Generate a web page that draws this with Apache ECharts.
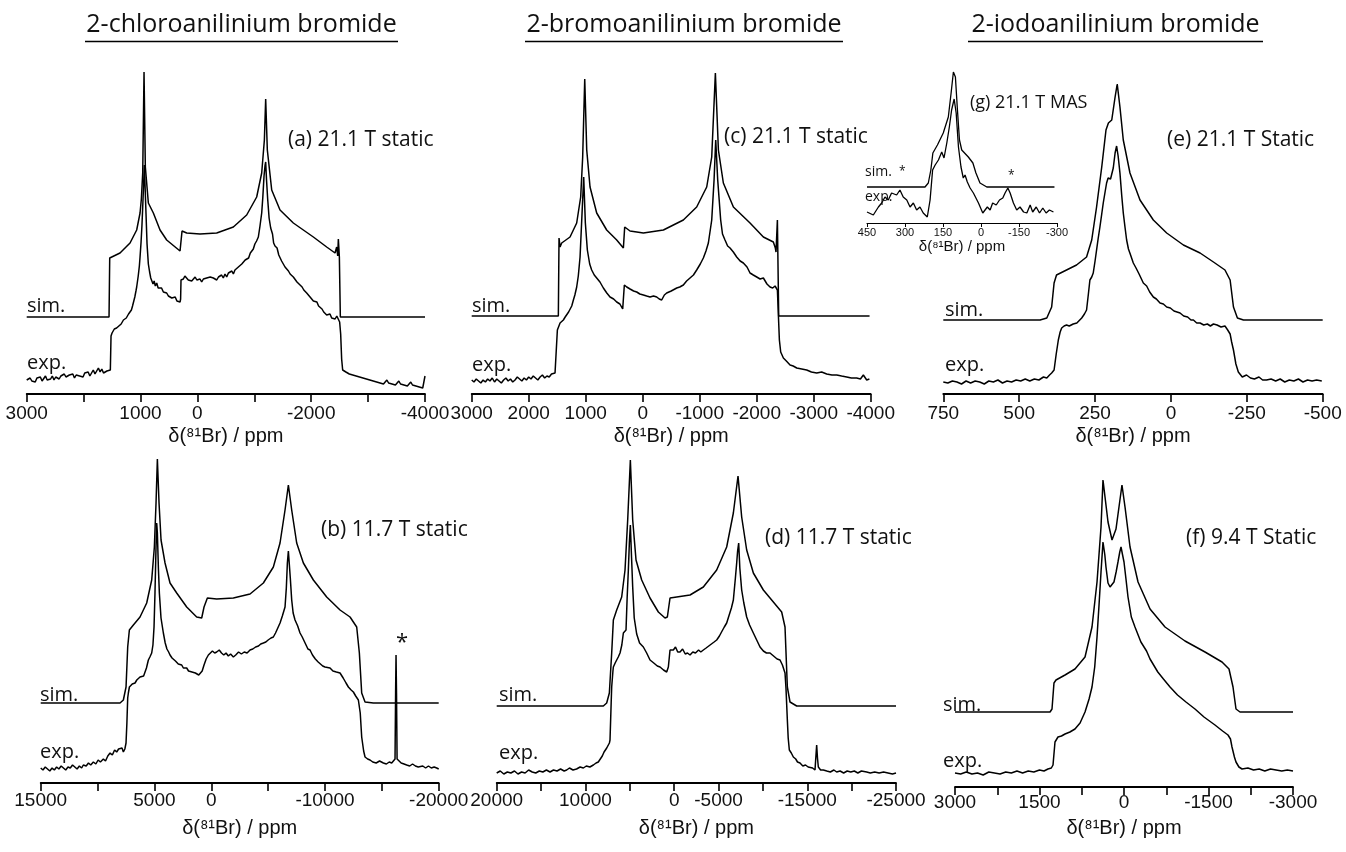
<!DOCTYPE html>
<html><head><meta charset="utf-8">
<script src="https://cdn.jsdelivr.net/npm/echarts@6/dist/echarts.min.js"></script>
<style>html,body{margin:0;padding:0;background:#fff}#c{width:1346px;height:852px}</style>
</head><body><div id="c"></div>
<script>
// ---------- tick labels shown on each axis ----------
const ticksA = [3000, 1000, 0, -2000, -4000];
const ticksC = [3000, 2000, 1000, 0, -1000, -2000, -3000, -4000];
const ticksE = [750, 500, 250, 0, -250, -500];
const ticksB = [15000, 5000, 0, -10000, -20000];
const ticksD = [20000, 10000, 0, -5000, -15000, -25000];
const ticksF = [3000, 1500, 0, -1500, -3000];
const ticksG = [450, 300, 150, 0, -150, -300];

// ---------- spectra: [ppm, intensity (arb.)] ----------
const simA = [[3000,77],[1553,77],[1541,136],[1360,141],[1184,151],[1067,164],[1008,181],[985,195],[961,221],[938,322],[915,227],[862,191],[774,181],[657,164],[540,154],[305,143],[282,141],[270,163],[188,161],[-46,160],[-339,161],[-632,167],[-866,179],[-1042,197],[-1130,221],[-1177,254],[-1200,295],[-1229,244],[-1306,204],[-1452,184],[-1686,171],[-2038,157],[-2272,147],[-2419,141],[-2448,147],[-2466,138],[-2477,155],[-2495,137],[-2512,77],[-4000,77]];
const expA = [[3000,14],[2970,12],[2940,16],[2910,13],[2880,15],[2850,12],[2820,16],[2790,14],[2760,17],[2730,13],[2700,15],[2670,18],[2640,14],[2610,16],[2580,15],[2550,18],[2520,14],[2490,17],[2460,19],[2430,15],[2400,18],[2370,16],[2340,20],[2310,17],[2280,15],[2250,19],[2220,17],[2190,20],[2160,16],[2130,19],[2100,21],[2070,18],[2040,20],[2010,17],[1980,21],[1950,19],[1920,22],[1890,18],[1860,21],[1830,24],[1800,20],[1770,23],[1740,26],[1710,22],[1680,25],[1650,21],[1620,20],[1590,23],[1560,21],[1530,24],[1518,58],[1500,61],[1480,60],[1460,65],[1440,63],[1420,66],[1400,64],[1380,68],[1360,67],[1340,70],[1320,69],[1300,74],[1272,72],[1250,76],[1230,75],[1210,80],[1184,81],[1160,84],[1140,88],[1125,90],[1100,97],[1080,103],[1067,107],[1040,118],[1020,128],[1008,137],[990,152],[975,168],[961,187],[945,210],[932,229],[918,205],[903,180],[885,150],[862,130],[840,122],[820,116],[803,115],[780,110],[760,113],[740,108],[715,111],[690,106],[657,104],[630,106],[598,102],[570,100],[540,101],[510,98],[481,99],[450,96],[422,95],[390,97],[360,93],[335,94],[305,92],[295,95],[288,114],[270,116],[247,115],[220,118],[188,117],[160,114],[130,116],[100,113],[71,115],[40,117],[10,114],[-20,116],[-46,115],[-75,112],[-105,115],[-135,113],[-163,116],[-195,114],[-225,117],[-250,115],[-280,116],[-310,118],[-340,114],[-370,117],[-397,115],[-425,119],[-455,116],[-485,120],[-515,117],[-545,121],[-575,119],[-605,123],[-632,120],[-660,124],[-690,122],[-720,127],[-749,125],[-780,130],[-810,128],[-840,134],[-866,132],[-900,136],[-930,141],[-960,140],[-983,145],[-1010,150],[-1040,153],[-1071,157],[-1100,168],[-1130,181],[-1150,197],[-1171,218],[-1188,228],[-1200,232],[-1215,214],[-1235,195],[-1260,176],[-1288,166],[-1320,160],[-1340,151],[-1364,148],[-1400,146],[-1430,139],[-1452,140],[-1480,133],[-1510,131],[-1540,127],[-1569,125],[-1600,123],[-1630,120],[-1660,121],[-1686,117],[-1720,115],[-1750,112],[-1780,113],[-1804,109],[-1840,107],[-1870,104],[-1900,105],[-1921,101],[-1950,99],[-1980,97],[-2010,96],[-2038,93],[-2070,91],[-2100,92],[-2130,88],[-2155,87],[-2190,85],[-2220,82],[-2250,83],[-2272,79],[-2300,78],[-2330,80],[-2360,76],[-2389,77],[-2420,75],[-2450,78],[-2477,76],[-2500,72],[-2518,60],[-2535,35],[-2553,24],[-2580,25],[-2610,22],[-2640,24],[-2670,20],[-2700,22],[-2730,19],[-2760,21],[-2790,18],[-2820,20],[-2850,17],[-2880,19],[-2910,16],[-2940,18],[-2970,15],[-3000,17],[-3030,14],[-3060,16],[-3090,13],[-3120,15],[-3150,12],[-3180,14],[-3210,11],[-3240,13],[-3270,10],[-3300,12],[-3330,14],[-3360,11],[-3390,13],[-3420,10],[-3450,12],[-3480,9],[-3510,11],[-3540,13],[-3570,10],[-3600,12],[-3630,9],[-3660,11],[-3690,8],[-3720,10],[-3750,12],[-3780,9],[-3810,11],[-3840,8],[-3870,10],[-3900,7],[-3930,9],[-3960,6],[-3980,12],[-4000,18]];

const simC = [[3000,78],[1480,78],[1468,156],[1450,147],[1421,151],[1275,157],[1158,171],[1088,197],[1053,237],[1017,315],[982,244],[924,207],[807,181],[632,164],[456,154],[339,146],[316,167],[222,163],[-12,161],[-363,164],[-713,174],[-947,187],[-1123,207],[-1211,237],[-1275,321],[-1328,244],[-1415,211],[-1591,187],[-1883,171],[-2117,157],[-2292,152],[-2327,146],[-2339,142],[-2363,174],[-2386,78],[-3980,78]];
const expC = [[3000,14],[2960,12],[2920,15],[2880,13],[2840,11],[2800,14],[2760,12],[2720,15],[2680,13],[2640,16],[2600,12],[2560,15],[2520,13],[2480,11],[2440,14],[2400,16],[2360,13],[2320,15],[2280,12],[2240,14],[2200,17],[2160,15],[2120,13],[2080,16],[2040,14],[2000,17],[1960,15],[1920,18],[1880,16],[1840,14],[1800,17],[1760,19],[1720,16],[1680,18],[1640,17],[1600,20],[1570,19],[1538,21],[1497,64],[1470,68],[1450,71],[1420,72],[1392,74],[1360,77],[1333,79],[1300,82],[1275,84],[1245,88],[1216,94],[1190,99],[1158,107],[1130,118],[1099,137],[1064,181],[1035,217],[1006,171],[971,144],[930,130],[895,124],[850,119],[807,116],[750,112],[690,106],[630,101],[573,97],[510,95],[456,92],[400,90],[351,85],[322,109],[280,107],[222,105],[160,103],[105,102],[50,100],[-12,99],[-70,98],[-129,97],[-190,98],[-246,97],[-290,95],[-333,94],[-380,99],[-421,101],[-500,103],[-597,106],[-650,107],[-713,109],[-770,113],[-830,116],[-890,119],[-947,124],[-1010,130],[-1064,136],[-1110,143],[-1152,151],[-1211,174],[-1252,214],[-1281,254],[-1316,214],[-1368,174],[-1400,160],[-1444,154],[-1490,148],[-1532,146],[-1590,142],[-1649,137],[-1710,133],[-1766,131],[-1830,127],[-1883,121],[-1940,119],[-2000,117],[-2060,115],[-2117,116],[-2180,110],[-2234,107],[-2280,106],[-2322,108],[-2363,104],[-2398,54],[-2421,42],[-2468,36],[-2520,33],[-2585,29],[-2640,28],[-2702,26],[-2790,25],[-2877,24],[-2960,22],[-3053,21],[-3140,22],[-3228,20],[-3320,19],[-3404,19],[-3490,18],[-3579,17],[-3660,16],[-3754,16],[-3820,15],[-3871,19],[-3930,14],[-3977,15]];

const simE = [[750,74],[431,74],[409,76],[393,87],[385,111],[377,119],[344,124],[311,129],[278,137],[261,154],[245,187],[228,227],[214,264],[206,271],[195,274],[184,297],[177,310],[168,287],[157,254],[135,221],[102,194],[58,174],[14,161],[-41,149],[-96,141],[-140,132],[-178,124],[-195,114],[-206,87],[-219,76],[-239,74],[-500,74]];
const expE = [[750,12],[735,11],[720,13],[705,12],[690,10],[675,13],[660,11],[645,13],[630,12],[615,10],[600,13],[585,12],[570,14],[555,11],[540,13],[525,12],[510,14],[495,13],[480,15],[465,13],[450,15],[435,14],[420,17],[409,16],[400,19],[393,21],[385,24],[378,40],[371,54],[365,62],[360,66],[352,68],[344,69],[335,68],[322,70],[310,71],[294,76],[285,80],[278,84],[272,100],[267,114],[261,117],[256,121],[250,133],[245,144],[240,155],[234,167],[228,180],[223,191],[217,202],[212,211],[207,216],[203,217],[199,215],[195,214],[190,226],[184,241],[179,248],[174,238],[168,221],[162,198],[157,181],[151,166],[146,154],[140,145],[133,139],[124,131],[115,126],[105,120],[91,111],[80,108],[70,102],[58,97],[48,95],[36,91],[25,90],[14,87],[2,86],[-10,83],[-20,82],[-30,81],[-42,78],[-55,77],[-66,74],[-74,74],[-85,71],[-96,71],[-108,69],[-120,70],[-130,68],[-140,70],[-152,69],[-165,67],[-178,68],[-187,64],[-195,60],[-200,52],[-206,44],[-214,30],[-222,22],[-235,17],[-249,19],[-262,16],[-275,15],[-290,17],[-302,14],[-315,14],[-330,15],[-345,13],[-360,15],[-375,12],[-390,14],[-405,13],[-420,15],[-435,12],[-450,14],[-465,13],[-480,14],[-497,13]];

const simG = [[450,36],[221,36],[208,40],[198,53],[190,70],[172,78],[149,90],[129,106],[118,130],[109,151],[101,146],[93,113],[85,83],[76,73],[50,66],[32,60],[20,50],[4,40],[-23,36],[-290,36]];
const expG = [[450,11],[445,11],[425,8],[405,16],[392,20],[379,26],[366,23],[353,30],[333,28],[320,33],[307,26],[293,23],[280,16],[267,20],[254,13],[241,16],[228,10],[212,6],[201,23],[191,53],[181,58],[168,63],[155,71],[146,65],[135,80],[125,96],[116,113],[106,124],[98,110],[89,76],[79,56],[70,45],[63,48],[54,41],[43,35],[30,30],[10,20],[-7,10],[-16,13],[-25,16],[-36,13],[-46,20],[-60,18],[-73,23],[-86,25],[-95,30],[-106,35],[-115,30],[-128,20],[-141,13],[-154,16],[-168,11],[-181,10],[-194,18],[-204,11],[-218,16],[-231,10],[-244,15],[-257,10],[-270,13],[-286,11]];

const simB = [[15000,80],[8023,80],[7730,83],[7496,96],[7349,136],[7203,153],[6851,158],[6265,166],[5678,180],[5239,203],[5004,236],[4858,280],[4740,324],[4594,280],[4418,243],[4066,220],[3627,200],[3040,190],[2161,176],[1282,166],[842,165],[637,176],[343,185],[-477,184],[-1943,185],[-3409,189],[-4581,200],[-5460,216],[-6047,240],[-6486,273],[-6780,298],[-7073,273],[-7512,240],[-8099,220],[-8978,203],[-10150,186],[-11323,173],[-12203,166],[-12789,156],[-13023,130],[-13228,90],[-13522,81],[-14254,80],[-20000,80]];
const expB = [[15000,15],[14800,13],[14600,16],[14400,14],[14200,12],[14000,15],[13800,13],[13600,16],[13400,14],[13200,17],[13000,15],[12800,13],[12600,16],[12400,15],[12200,18],[12000,16],[11800,14],[11600,17],[11400,15],[11250,18],[11000,17],[10800,20],[10600,18],[10370,21],[10150,19],[9950,23],[9750,21],[9490,24],[9300,22],[9100,27],[8900,30],[8700,28],[8500,33],[8317,31],[8150,34],[8000,32],[7850,35],[7730,31],[7600,34],[7496,40],[7420,60],[7349,85],[7291,90],[7200,96],[7085,94],[6950,99],[6851,97],[6704,100],[6550,103],[6400,102],[6265,106],[6100,108],[5950,107],[5825,111],[5700,115],[5532,123],[5400,126],[5239,130],[5130,138],[5034,156],[4950,190],[4860,235],[4799,260],[4740,250],[4650,215],[4565,190],[4420,165],[4213,150],[4050,140],[3900,134],[3750,131],[3627,128],[3450,125],[3300,126],[3150,122],[3040,123],[2900,119],[2750,117],[2600,118],[2454,115],[2300,113],[2161,115],[2000,112],[1868,113],[1700,111],[1550,113],[1400,110],[1282,109],[1100,108],[930,106],[800,112],[637,118],[450,124],[343,126],[256,128],[100,130],[-100,132],[-300,130],[-477,131],[-700,133],[-900,130],[-1100,128],[-1300,130],[-1500,127],[-1700,129],[-1943,126],[-2150,128],[-2400,131],[-2650,129],[-2900,131],[-3150,130],[-3409,133],[-3650,134],[-3900,136],[-4150,137],[-4350,139],[-4581,140],[-4800,141],[-5000,143],[-5250,145],[-5460,146],[-5650,150],[-5850,155],[-6047,160],[-6250,167],[-6486,176],[-6600,195],[-6692,220],[-6780,232],[-6838,233],[-6950,205],[-7073,183],[-7200,170],[-7366,163],[-7600,157],[-7805,150],[-8000,146],[-8250,140],[-8500,134],[-8685,133],[-8900,128],[-9150,124],[-9400,121],[-9564,120],[-9800,117],[-10000,116],[-10150,115],[-10443,115],[-10700,112],[-11000,111],[-11323,110],[-11600,105],[-11850,100],[-12056,96],[-12300,93],[-12496,91],[-12700,87],[-12935,83],[-13100,70],[-13228,46],[-13400,32],[-13522,26],[-13750,24],[-13961,23],[-14200,21],[-14500,20],[-14800,22],[-15134,20],[-15400,19],[-15650,21],[-15867,20],[-16000,21],[-16160,24],[-16210,90],[-16248,128],[-16290,90],[-16340,24],[-16453,23],[-16700,20],[-16950,19],[-17186,18],[-17450,17],[-17700,19],[-17950,17],[-18200,16],[-18358,18],[-18600,17],[-18850,15],[-19100,17],[-19350,15],[-19600,16],[-19824,15],[-20000,14]];

const simD = [[20000,77],[7980,77],[7604,80],[7304,90],[7041,130],[6853,163],[6477,173],[5914,186],[5538,213],[5238,263],[4937,323],[4674,263],[4299,223],[3660,203],[2721,185],[1782,171],[1031,165],[768,166],[467,185],[-284,186],[-1787,188],[-3289,196],[-4792,213],[-5918,236],[-6670,270],[-7196,307],[-7609,266],[-8172,233],[-8924,210],[-10050,193],[-11177,181],[-12116,171],[-12492,156],[-12755,96],[-13055,81],[-13807,77],[-25000,77]];
const expD = [[20000,10],[19600,12],[19200,9],[18800,11],[18400,10],[18000,12],[17600,9],[17200,11],[16800,10],[16400,13],[16000,11],[15600,10],[15200,12],[14800,11],[14400,13],[13990,11],[13600,13],[13200,12],[12800,14],[12400,12],[12112,13],[11800,15],[11400,13],[11000,14],[10600,16],[10234,15],[9900,17],[9500,16],[9107,18],[8800,20],[8550,21],[8355,23],[8100,27],[7900,31],[7792,33],[7600,35],[7416,35],[7300,40],[7229,43],[7100,80],[7041,96],[6900,112],[6853,116],[6650,120],[6477,123],[6300,126],[6102,130],[5900,138],[5726,150],[5550,152],[5426,153],[5300,185],[5163,213],[5050,240],[4937,258],[4800,225],[4674,196],[4500,165],[4224,149],[3900,140],[3472,136],[3100,130],[2721,123],[2300,120],[1900,117],[1594,116],[1200,113],[843,111],[655,116],[467,133],[300,135],[92,133],[-150,136],[-400,131],[-660,131],[-950,134],[-1250,129],[-1500,130],[-1787,128],[-2100,131],[-2400,130],[-2750,133],[-3000,131],[-3289,133],[-3600,135],[-3900,137],[-4200,139],[-4500,141],[-4792,143],[-5100,147],[-5400,152],[-5650,156],[-5918,160],[-6200,168],[-6450,175],[-6670,183],[-6900,205],[-7045,220],[-7150,232],[-7271,240],[-7400,215],[-7609,193],[-7850,180],[-8172,166],[-8500,158],[-8924,150],[-9300,143],[-9675,136],[-10050,132],[-10400,130],[-10802,130],[-11200,127],[-11600,124],[-11929,123],[-12200,118],[-12492,110],[-12600,95],[-12755,63],[-12850,45],[-12980,33],[-13200,30],[-13431,26],[-13700,24],[-13900,21],[-14182,20],[-14500,17],[-14800,18],[-15100,16],[-15309,16],[-15600,15],[-15873,13],[-15960,25],[-16060,38],[-16150,25],[-16248,16],[-16500,13],[-16812,13],[-17200,12],[-17600,11],[-18000,13],[-18314,11],[-18700,12],[-19100,10],[-19500,12],[-19900,11],[-20300,12],[-20700,10],[-21100,12],[-21695,11],[-22100,10],[-22600,11],[-23100,10],[-23600,11],[-24100,10],[-24600,9],[-25000,10]];

const simF = [[3000,75],[1313,75],[1278,78],[1243,104],[1207,107],[1047,112],[870,118],[692,130],[568,160],[479,205],[408,260],[373,307],[337,290],[284,265],[213,247],[142,258],[89,280],[36,302],[-18,280],[-107,240],[-249,205],[-462,178],[-728,160],[-1083,146],[-1438,135],[-1740,125],[-1864,118],[-1935,100],[-1988,78],[-2059,75],[-3000,75]];
const expF = [[3000,14],[2900,13],[2800,15],[2700,13],[2600,14],[2500,12],[2400,15],[2300,14],[2200,13],[2100,15],[2000,14],[1900,16],[1800,14],[1700,16],[1600,15],[1500,17],[1420,16],[1350,18],[1290,19],[1260,22],[1225,45],[1172,50],[1110,51],[1047,53],[960,55],[870,58],[780,64],[692,75],[620,88],[568,100],[520,120],[479,150],[440,185],[408,215],[373,245],[340,232],[320,220],[284,204],[248,200],[213,202],[178,205],[140,215],[107,225],[75,235],[53,240],[25,232],[0,225],[-35,208],[-71,190],[-130,170],[-195,160],[-300,145],[-400,136],[-462,128],[-600,115],[-700,108],[-817,100],[-950,92],[-1100,85],[-1260,78],[-1420,70],[-1615,62],[-1750,56],[-1846,52],[-1890,48],[-1917,40],[-1960,30],[-1988,25],[-2040,20],[-2095,18],[-2200,19],[-2300,17],[-2400,18],[-2500,16],[-2600,18],[-2700,17],[-2800,16],[-2900,17],[-3000,16]];

// ---------- layout ----------
const AXF = '"Liberation Sans", Arial, sans-serif';
const TXF = '"Open Sans", sans-serif';
const AXNAME = 'δ(⁸¹Br) / ppm';

const panels = [
  {left:26.7, width:398.3, top:40, height:354, min:-4000, max:3000, interval:1000, labels:ticksA, sim:simA, exp:expA, gap:32, margin:10},
  {left:471.7, width:399, top:40, height:354, min:-4000, max:3000, interval:1000, labels:ticksC, sim:simC, exp:expC, gap:32, margin:10},
  {left:943.3, width:379.4, top:40, height:354, min:-500, max:750, interval:250, labels:ticksE, sim:simE, exp:expE, gap:32, margin:10},
  {left:40.7, width:398, top:430, height:353, min:-20000, max:15000, interval:5000, labels:ticksB, sim:simB, exp:expB, gap:35, margin:8},
  {left:496.7, width:399.3, top:430, height:353, min:-25000, max:20000, interval:5000, labels:ticksD, sim:simD, exp:expD, gap:35, margin:8},
  {left:955, width:338, top:430, height:357, min:-3000, max:3000, interval:750, labels:ticksF, sim:simF, exp:expF, gap:31, margin:6},
  {left:867, width:190, top:60, height:163, min:-300, max:450, interval:150, labels:ticksG, sim:simG, exp:expG, gap:16, margin:4, inset:true}
];

const grid = [], xAxis = [], yAxis = [], series = [];
panels.forEach((p, i) => {
  grid.push({left:p.left, width:p.width, top:p.top, height:p.height, containLabel:false});
  const fs = p.inset ? 11 : 19;
  xAxis.push({
    type:'value', gridIndex:i, inverse:true, min:p.min, max:p.max, interval:p.interval,
    splitLine:{show:false},
    axisLine:{show:true, onZero:false, lineStyle:{color:'#000', width:p.inset ? 1.2 : 1.8}},
    axisTick:{show:true, inside:false, length:p.inset ? 4 : 8, lineStyle:{color:'#000', width:p.inset ? 1 : 1.6}},
    axisLabel:{show:true, margin:p.margin, fontSize:fs, fontFamily:AXF, color:'#111',
      showMinLabel:true, showMaxLabel:true,
      formatter: (v) => (p.labels.indexOf(v) >= 0 ? String(v) : '')},
    name:AXNAME, nameLocation:'middle', nameGap:p.gap,
    nameTextStyle:{fontSize:p.inset ? 15 : 20, fontFamily:AXF, color:'#111'}
  });
  yAxis.push({type:'value', gridIndex:i, min:0, max:p.height, show:false});
  const ls = {color:'#000', width:p.inset ? 1.3 : 1.5};
  series.push({type:'line', xAxisIndex:i, yAxisIndex:i, data:p.sim, showSymbol:false, symbol:'none', lineStyle:ls, silent:true, animation:false});
  series.push({type:'line', xAxisIndex:i, yAxisIndex:i, data:p.exp, showSymbol:false, symbol:'none', lineStyle:ls, silent:true, animation:false});
});

function txt(t, x, y, size, align, fam) {
  return {type:'text', x:x, y:y, silent:true, z:10,
    style:{text:t, font:size + 'px ' + (fam || TXF), fill:'#111', align:align || 'left', verticalAlign:'middle'}};
}
function uline(x1, x2, y) {
  return {type:'line', silent:true, shape:{x1:x1, y1:y, x2:x2, y2:y}, style:{stroke:'#000', lineWidth:1.5}};
}

const graphic = [
  txt('2-chloroanilinium bromide', 241.5, 25, 25, 'center'), uline(85, 398, 41.5),
  txt('2-bromoanilinium bromide', 684, 25, 25, 'center'), uline(525, 843, 41.5),
  txt('2-iodoanilinium bromide', 1115.5, 25, 25, 'center'), uline(968, 1263, 41.5),
  txt('(a) 21.1 T static', 288, 140, 21),
  txt('(c) 21.1 T static', 724, 137, 21),
  txt('(e) 21.1 T Static', 1167, 140, 21),
  txt('(g) 21.1 T MAS', 970, 103, 18),
  txt('(b) 11.7 T static', 321, 530, 21),
  txt('(d) 11.7 T static', 765, 538, 21),
  txt('(f) 9.4 T Static', 1186, 538, 21),
  txt('sim.', 27, 306, 20), txt('exp.', 27, 363, 20),
  txt('sim.', 472, 306, 20), txt('exp.', 472, 365, 20),
  txt('sim.', 945, 310, 20), txt('exp.', 945, 365, 20),
  txt('sim.', 40, 695, 20), txt('exp.', 40, 752, 20),
  txt('sim.', 499, 695, 20), txt('exp.', 499, 753, 20),
  txt('sim.', 943, 705, 20), txt('exp.', 943, 761, 20),
  txt('sim.', 865, 172, 14), txt('*', 899, 172, 12),
  txt('exp.', 865, 197, 14), txt('*', 1008, 176, 12),
  txt('*', 396, 643, 22)
];

const chart = echarts.init(document.getElementById('c'), null, {renderer:'canvas'});
chart.setOption({backgroundColor:'#fff', animation:false, grid, xAxis, yAxis, series, graphic});
</script></body></html>
